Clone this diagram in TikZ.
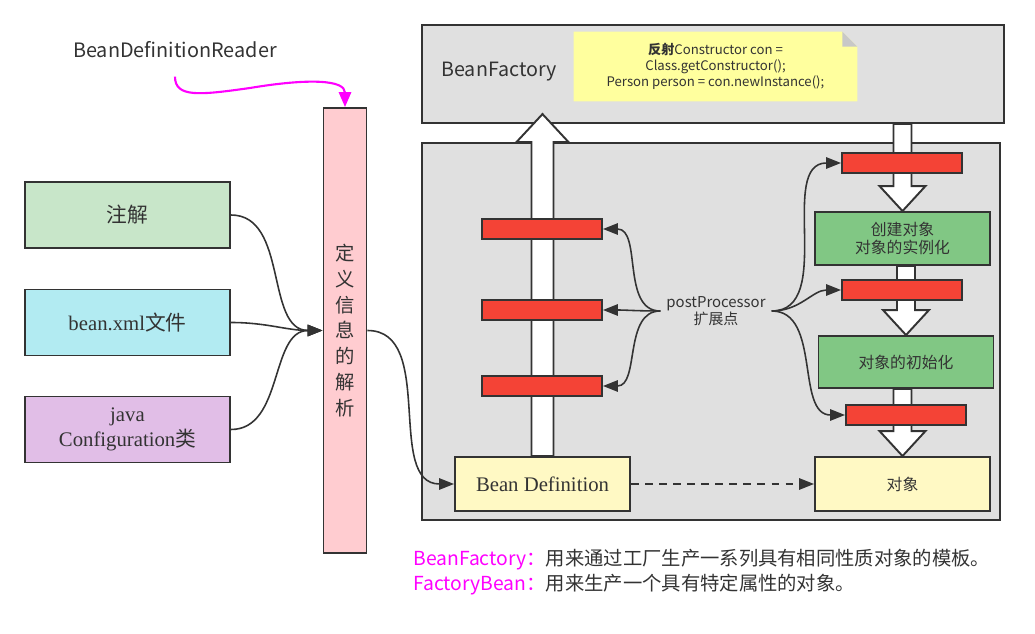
\documentclass[tikz,border=0pt]{standalone}
\usepackage{fontspec}
\setmainfont{Noto Sans CJK SC}
\newfontfamily\serifmix{Liberation Serif}
\usetikzlibrary{arrows.meta,calc}

\definecolor{linegray}{HTML}{333333}
\definecolor{panelgray}{HTML}{E0E0E0}
\definecolor{parsepink}{HTML}{FFCCD0}
\definecolor{annogreen}{HTML}{C8E6C9}
\definecolor{xmlcyan}{HTML}{B2EBF2}
\definecolor{cfgpurple}{HTML}{E1BEE7}
\definecolor{barred}{HTML}{F44336}
\definecolor{stepgreen}{HTML}{81C784}
\definecolor{beanyellow}{HTML}{FFF9C4}
\definecolor{notefill}{HTML}{FFFF9E}
\definecolor{foldgray}{HTML}{C8C8C8}
\definecolor{readerpink}{HTML}{FF00FF}

\tikzset{
  box/.style={draw=linegray, line width=1.1pt, text=linegray, inner sep=0pt, align=center},
  srcbox/.style={box, minimum width=4.1cm, minimum height=1.32cm, font=\fontsize{11.8}{14}\selectfont},
  redbar/.style={box, fill=barred, minimum width=2.4cm, minimum height=0.4cm},
  stepbox/.style={box, minimum width=3.5cm, font=\fontsize{9}{10.5}\selectfont},
  conn/.style={draw=linegray, line width=0.9pt, -{Triangle[length=8.5pt,width=6.5pt]}},
  hollow/.style={fill=white, draw=linegray, line width=1.1pt},
}

% hollow arrow pointing down from #1 onto node #2
\newcommand{\hollowdown}[2]{%
  \draw[hollow] ($(#1 -| #2.north)+(-9,0)$) -- ($(#2.north)+(-9,-25)$) -- ++(-14,0)
    -- (#2.north) -- ($(#2.north)+(23,-25)$) -- ++(-14,0) -- ($(#1 -| #2.north)+(9,0)$) -- cycle;}

\begin{document}
\begin{tikzpicture}[x=0.02cm, y=-0.02cm]
\useasboundingbox (0,0) rectangle (1035,634);

% BeanFactory and container
\node[box, fill=panelgray, minimum width=11.64cm, minimum height=1.96cm] (factory) at (713,74) {};
\node[text=linegray, font=\fontsize{11.2}{13}\selectfont] (factorylabel) at (499,72) {BeanFactory};
\node[box, fill=panelgray, minimum width=11.56cm, minimum height=7.54cm] (container) at (711,331.5) {};

% note
\node[minimum width=5.66cm, minimum height=1.38cm, inner sep=0pt] (note) at (715.5,66.5) {};
\fill[notefill] (note.north west) -- ($(note.north east)+(-15,0)$) -- ($(note.north east)+(0,15)$)
  -- (note.south east) -- (note.south west) -- cycle;
\fill[foldgray] ($(note.north east)+(-15,0)$) -- ($(note.north east)+(0,15)$) -- ($(note.north east)+(-15,15)$) -- cycle;
\node[text=linegray, align=center, font=\fontsize{7.5}{9}\selectfont] (notetext) at (note)
  {{\bfseries 反射}Constructor con =\\Class.getConstructor();\\Person person = con.newInstance();};

% reader and parsing
\node[text=linegray, font=\fontsize{11.3}{13}\selectfont] (reader) at (175,50) {BeanDefinitionReader};
\node[box, fill=parsepink, minimum width=0.86cm, minimum height=8.9cm, font=\fontsize{11}{14.7}\selectfont]
  (parse) at (345,330.5) {定\\义\\信\\息\\的\\解\\析};
\draw[readerpink, line width=1.2pt, -{Triangle[length=8.5pt,width=7pt]}] ([yshift=-7pt]reader.south)
  .. controls (175,98) and (200,95) .. (250,88) .. controls (310,78) and (345,80) .. (parse.north);

% sources
\node[srcbox, fill=annogreen] (anno) at (127.5,215) {注解};
\node[srcbox, fill=xmlcyan] (xml) at (127.5,322.5) {{\serifmix bean.xml}文件};
\node[srcbox, fill=cfgpurple] (javacfg) at (127.5,429.5) {{\serifmix java}\\{\serifmix Configuration}类};
\foreach \s in {anno,xml,javacfg}
  \draw[conn] (\s.east) to[out=0,in=180] (parse.west);

% definition and object
\node[stepbox, fill=beanyellow, minimum height=1.08cm, font=\serifmix\fontsize{11.8}{14}\selectfont] (bdef) at (542.5,484) {Bean Definition};
\node[stepbox, fill=beanyellow, minimum height=1.08cm] (obj) at (902.5,484) {对象};
\node[stepbox, fill=stepgreen, minimum height=1.06cm] (create) at (902.5,238.5) {创建对象\\对象的实例化};
\node[stepbox, fill=stepgreen, minimum height=1.04cm] (init) at (906,362) {对象的初始化};
\draw[conn] (parse.east) to[out=0,in=180] (bdef.west);
\draw[conn, dash pattern=on 4.5pt off 3.5pt] (bdef.east) -- (obj.west);

% hollow arrows
\draw[hollow] ($(bdef.north)+(-11,0)$) -- ($(bdef.north |- container.north)+(-11,0)$) -- ++(-15,0)
  -- ($(bdef.north |- container.north)+(0,-28)$) -- ($(bdef.north |- container.north)+(26,0)$) -- ++(-15,0)
  -- ($(bdef.north)+(11,0)$) -- cycle;
\hollowdown{factory.south}{create}
\hollowdown{create.south}{init}
\hollowdown{init.south}{obj}

% post processors
\node[redbar] (lbar1) at (542,229) {};
\node[redbar] (lbar2) at (542,310) {};
\node[redbar] (lbar3) at (542,386) {};
\node[redbar] (rbar1) at (902,163) {};
\node[redbar] (rbar2) at (902,290) {};
\node[redbar] (rbar3) at (906,415) {};
\node[text=linegray, align=center, font=\fontsize{8.5}{10}\selectfont] (pp) at (716,311) {postProcessor\\扩展点};
\foreach \b in {lbar1,lbar2,lbar3}
  \draw[conn] (pp.west) to[out=180,in=0] (\b.east);
\foreach \b in {rbar1,rbar2,rbar3}
  \draw[conn] (pp.east) to[out=0,in=180] (\b.west);

% notes below
\node[anchor=west, inner sep=0pt, text=linegray, font=\fontsize{11}{12}\selectfont] (factorynote) at (413,560)
  {\textcolor{readerpink}{BeanFactory：}用来通过工厂生产一系列具有相同性质对象的模板。};
\node[anchor=west, inner sep=0pt, text=linegray, font=\fontsize{11}{12}\selectfont] (beannote) at (413,585)
  {\textcolor{readerpink}{FactoryBean：}用来生产一个具有特定属性的对象。};
\end{tikzpicture}
\end{document}
